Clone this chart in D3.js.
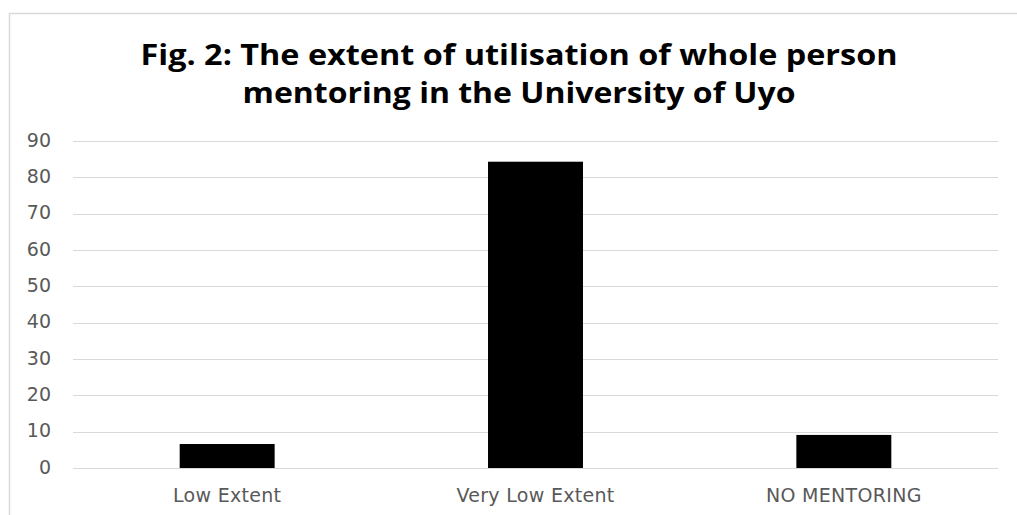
<!DOCTYPE html>
<html><head><meta charset="utf-8">
<script src="https://cdn.jsdelivr.net/npm/d3@7"></script>
<style>html,body{margin:0;padding:0;background:#fff;overflow:hidden}</style>
</head><body>
<svg id="chart" width="1017" height="515"></svg>
<script>
const categories = ["Low Extent", "Very Low Extent", "NO MENTORING"];
const values = [6.6, 84.3, 9.1];
const yTicks = [0, 10, 20, 30, 40, 50, 60, 70, 80, 90];
const titleLines = ["Fig. 2: The extent of utilisation of whole person", "mentoring in the University of Uyo"];

(function () {
const svg = d3.select("#chart");
svg.append("rect").attr("x", 9.5).attr("y", 13.5).attr("width", 1030).attr("height", 530)
  .attr("fill", "#fff").attr("stroke", "#d9d9d9").attr("stroke-width", 1.5);

const mLeft = 73, mRight = 998, mTop = 141, mBottom = 468;
const x = d3.scaleBand().domain(categories).range([mLeft, mRight]).paddingInner(0.692).paddingOuter(0.346);
const y = d3.scaleLinear().domain([0, 90]).range([mBottom, mTop]);

svg.append("g").selectAll("line").data(yTicks).join("line")
  .attr("x1", mLeft).attr("x2", mRight)
  .attr("y1", d => Math.round(y(d)) + 0.5).attr("y2", d => Math.round(y(d)) + 0.5)
  .attr("stroke", "#d9d9d9").attr("stroke-width", 1.2);

const yAxis = d3.axisLeft(y).tickValues(yTicks).tickSize(0).tickPadding(0);
const gy = svg.append("g").attr("transform", `translate(51,-1)`).call(yAxis);
gy.select(".domain").remove();
gy.selectAll("text").attr("font-family", "DejaVu Sans").attr("font-size", 19).attr("fill", "#595959");

svg.append("g").selectAll("rect").data(values).join("rect")
  .attr("x", (d, i) => x(categories[i])).attr("width", x.bandwidth())
  .attr("y", d => y(d)).attr("height", d => y(0) - y(d))
  .attr("fill", "#000");

const xAxis = d3.axisBottom(x).tickSize(0).tickPadding(0);
const gx = svg.append("g").attr("transform", `translate(0,${mBottom + 20.5})`).call(xAxis);
gx.select(".domain").remove();
gx.selectAll("text").attr("font-family", "DejaVu Sans").attr("font-size", 19).attr("fill", "#595959")
  .attr("letter-spacing", 0.3);

const tw = [757, 553];
svg.append("g").selectAll("text").data(titleLines).join("text")
  .attr("x", 519).attr("y", (d, i) => 64.5 + i * 38.5)
  .attr("text-anchor", "middle")
  .attr("font-family", "Open Sans").attr("font-weight", "bold").attr("font-size", 28)
  .attr("fill", "#000")
  .attr("textLength", (d, i) => tw[i]).attr("lengthAdjust", "spacingAndGlyphs")
  .text(d => d);
})();
</script>
</body></html>
